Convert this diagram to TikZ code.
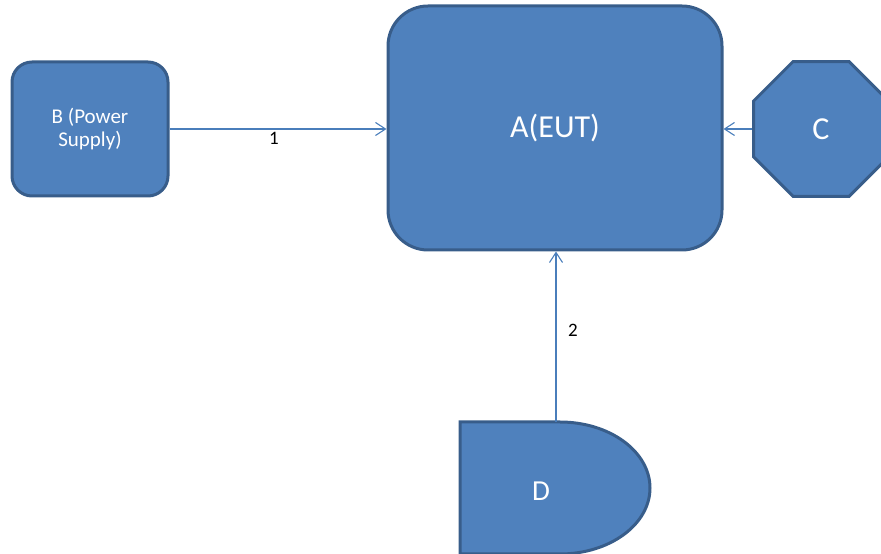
\documentclass[tikz,border=0pt]{standalone}
\usepackage{fontspec}
\setmainfont{Carlito}
\usetikzlibrary{shapes.geometric,arrows.meta}
\definecolor{boxfill}{HTML}{4F81BD}
\definecolor{boxline}{HTML}{385D8A}
\definecolor{connline}{HTML}{4A7EBB}
\tikzset{
  shapebox/.style={draw=boxline, fill=boxfill, line width=3pt, text=white, inner sep=0pt},
  conn/.style={draw=connline, line width=1.1pt, -{Straight Barb[length=10pt,width=13pt,line width=1.1pt]}},
  numlabel/.style={text=black, font=\fontsize{19}{22}\selectfont, inner sep=0pt}
}
\begin{document}
\begin{tikzpicture}[x=1pt,y=1pt]
\useasboundingbox (0,0) rectangle (881,554);
% A
\node[shapebox, rounded corners=40pt, minimum width=334pt, minimum height=244pt,
      font=\fontsize{32}{38}\selectfont] (A) at (555,426) {A(EUT)};
% B
\node[shapebox, rounded corners=20pt, minimum width=156pt, minimum height=134pt,
      align=center, font=\fontsize{21}{23}\selectfont] (B) at (90,425) {B (Power\\Supply)};
% C
\node[shapebox, regular polygon, regular polygon sides=8, minimum size=146pt,
      font=\fontsize{32}{38}\selectfont] (C) at (821,425) {C};
% D
\draw[draw=boxline, fill=boxfill, line width=3pt]
  (460,132) -- (560,132) arc[start angle=90, end angle=-90, x radius=90, y radius=66]
  -- (460,0) -- cycle;
\node[text=white, font=\fontsize{29}{35}\selectfont, inner sep=0pt] (D) at (541,63) {D};
\coordinate (Dtop) at (556,132);
% connectors
\draw[conn] (B.east) -- (B.east -| A.west);
\node[numlabel] (l1) at (274,416) {1};
\draw[conn] (C.west) -- (C.west -| A.east);
\draw[conn] (Dtop) -- (Dtop |- A.south);
\node[numlabel] (l2) at (573,224) {2};
\end{tikzpicture}
\end{document}
